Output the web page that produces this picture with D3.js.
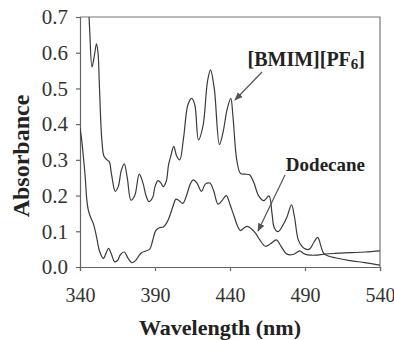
<!DOCTYPE html>
<html>
<head>
<meta charset="utf-8">
<script src="https://cdn.jsdelivr.net/npm/d3@7"></script>
<style>
  body { margin: 0; background: #fff; }
  svg { display: block; }
</style>
</head>
<body>
<div id="chart"></div>
<script>
// values
const xTicks = [340, 390, 440, 490, 540];
const yTicks = [0.0, 0.1, 0.2, 0.3, 0.4, 0.5, 0.6, 0.7];

const bmimWl = [345.5, 346.5, 348, 349.5, 351, 352, 353, 354.5, 356, 358, 359.5, 361, 363.5, 365.5, 367.5,
  369.5, 371.5, 374, 376.5, 379.5, 382, 384, 386, 388.5, 390, 392, 394, 395.5, 397.5, 399, 400.5, 402.5,
  404.5, 406.5, 409, 412, 414.5, 416.5, 419, 422, 425, 427, 429.5, 433, 435.5, 438, 440.5, 442, 444.5,
  447, 450, 453, 456, 459, 462.5, 466, 468, 469.5, 472, 475, 478, 481, 483, 485.5, 488, 490.5, 493, 496,
  498.5, 500.5, 502.5, 506, 510, 520, 530, 540];
const bmimAbs = [0.75, 0.66, 0.56, 0.59, 0.625, 0.6, 0.5, 0.36, 0.31, 0.3, 0.295, 0.26, 0.212, 0.225, 0.27,
  0.289, 0.25, 0.187, 0.2, 0.26, 0.235, 0.2, 0.183, 0.195, 0.225, 0.242, 0.235, 0.225, 0.24, 0.285, 0.31, 0.338,
  0.31, 0.3, 0.36, 0.455, 0.472, 0.455, 0.356, 0.395, 0.52, 0.552, 0.5, 0.343, 0.38, 0.44, 0.472, 0.42, 0.3,
  0.262, 0.26, 0.258, 0.235, 0.2, 0.186, 0.199, 0.15, 0.11, 0.099, 0.115, 0.14, 0.174, 0.14, 0.076, 0.058, 0.05,
  0.05, 0.07, 0.083, 0.06, 0.038, 0.03, 0.026, 0.018, 0.012, 0.005];

const dodecaneWl = [340, 341, 342, 343.5, 344.5, 345.5, 347, 349, 351, 353, 355.5, 357.5, 359, 361, 363, 365,
  367, 369.5, 372, 374.5, 377, 379, 381, 384, 386.5, 388.5, 390.5, 393, 395.5, 398, 400, 402, 404, 406,
  408.5, 411, 413.5, 415.5, 418, 421, 423.5, 426.5, 429, 432, 434.5, 437.5, 440, 442.5, 445, 447, 449.5,
  451.5, 454, 457, 460, 463.5, 467, 471, 474, 478, 482, 486.5, 489, 492, 497, 503, 510, 520, 530, 540];
const dodecaneAbs = [0.39, 0.36, 0.32, 0.25, 0.19, 0.16, 0.14, 0.12, 0.085, 0.045, 0.024, 0.04, 0.052, 0.035,
  0.015, 0.018, 0.035, 0.042, 0.025, 0.012, 0.018, 0.03, 0.04, 0.045, 0.05, 0.075, 0.102, 0.11, 0.112, 0.125,
  0.145, 0.17, 0.19, 0.186, 0.178, 0.2, 0.232, 0.244, 0.235, 0.212, 0.232, 0.235, 0.215, 0.176, 0.185, 0.2,
  0.175, 0.145, 0.115, 0.102, 0.11, 0.114, 0.108, 0.095, 0.075, 0.058, 0.065, 0.076, 0.058, 0.036, 0.035,
  0.045, 0.038, 0.034, 0.033, 0.036, 0.038, 0.04, 0.042, 0.045];

const width = 394, height = 340;
const plotLeft = 80, plotRight = 380, plotTop = 17, plotBottom = 267;
const ink = "#3a3a3a";
const serif = "'Liberation Serif', 'Times New Roman', serif";

const svg = d3.select("#chart").append("svg")
  .attr("width", width)
  .attr("height", height);

const x = d3.scaleLinear().domain([340, 540]).range([plotLeft, plotRight]);
const y = d3.scaleLinear().domain([0, 0.7]).range([plotBottom, plotTop]);

// frame (top and right)
svg.append("path")
  .attr("d", `M${plotLeft},${plotTop}H${plotRight}V${plotBottom}`)
  .attr("fill", "none")
  .attr("stroke", "#777")
  .attr("stroke-width", 1.2);

const xAxis = d3.axisBottom(x).tickValues(xTicks).tickSize(4).tickPadding(17).tickFormat(d3.format("d"));
const yAxis = d3.axisLeft(y).tickValues(yTicks).tickSize(4).tickPadding(8).tickFormat(d3.format(".1f"));

const gx = svg.append("g").attr("transform", `translate(0,${plotBottom})`).call(xAxis);
gx.attr("font-family", null);
gx.selectAll("text").style("font-family", serif).style("font-size", "20px").attr("fill", "#333");
const gy = svg.append("g").attr("transform", `translate(${plotLeft},0)`).call(yAxis);
gy.attr("font-family", null);
gy.selectAll("text").style("font-family", serif).style("font-size", "21px").attr("fill", "#333");
svg.selectAll(".domain, .tick line").attr("stroke", "#666").attr("stroke-width", 1.2);

const defs = svg.append("defs");
defs.append("clipPath").attr("id", "plot")
  .append("rect").attr("x", plotLeft).attr("y", plotTop)
  .attr("width", plotRight - plotLeft).attr("height", plotBottom - plotTop);

const line = d3.line()
  .x((d) => x(d[0]))
  .y((d) => y(d[1]))
  .curve(d3.curveCatmullRom.alpha(0.5));

[[bmimWl, bmimAbs], [dodecaneWl, dodecaneAbs]].forEach(([wl, ab]) => {
  svg.append("path")
    .datum(wl.map((w, i) => [w, ab[i]]))
    .attr("clip-path", "url(#plot)")
    .attr("fill", "none")
    .attr("stroke", ink)
    .attr("stroke-width", 1.2)
    .attr("d", line);
});

// axis titles
svg.append("text")
  .attr("transform", "rotate(-90)")
  .attr("x", -156)
  .attr("y", 29)
  .attr("text-anchor", "middle")
  .style("font-family", serif)
  .style("font-weight", "bold")
  .style("font-size", "24px")
  .attr("fill", "#222")
  .text("Absorbance");

svg.append("text")
  .attr("x", 220)
  .attr("y", 335)
  .attr("text-anchor", "middle")
  .style("font-family", serif)
  .style("font-weight", "bold")
  .style("font-size", "22px")
  .attr("fill", "#222")
  .text("Wavelength (nm)");

// annotations
defs.append("marker")
  .attr("id", "head")
  .attr("viewBox", "0 0 10 10")
  .attr("refX", 9).attr("refY", 5)
  .attr("markerWidth", 7).attr("markerHeight", 7)
  .attr("orient", "auto")
  .append("path").attr("d", "M0,1L10,5L0,9Z").attr("fill", "#555");

const bm = svg.append("text")
  .attr("x", 365).attr("y", 66)
  .attr("text-anchor", "end")
  .style("font-family", serif)
  .style("font-weight", "bold")
  .style("font-size", "20px")
  .attr("fill", "#222");
bm.append("tspan").text("[BMIM][PF");
bm.append("tspan").attr("dy", 3).style("font-size", "15px").text("6");
bm.append("tspan").attr("dy", -3).text("]");

svg.append("text")
  .attr("x", 365).attr("y", 171)
  .attr("text-anchor", "end")
  .style("font-family", serif)
  .style("font-weight", "bold")
  .style("font-size", "19px")
  .attr("fill", "#222")
  .text("Dodecane");

svg.append("line")
  .attr("x1", 262).attr("y1", 72).attr("x2", 235).attr("y2", 100)
  .attr("stroke", "#555").attr("stroke-width", 1.2).attr("marker-end", "url(#head)");
svg.append("line")
  .attr("x1", 285).attr("y1", 175).attr("x2", 258).attr("y2", 231)
  .attr("stroke", "#555").attr("stroke-width", 1.2).attr("marker-end", "url(#head)");
</script>
</body>
</html>
